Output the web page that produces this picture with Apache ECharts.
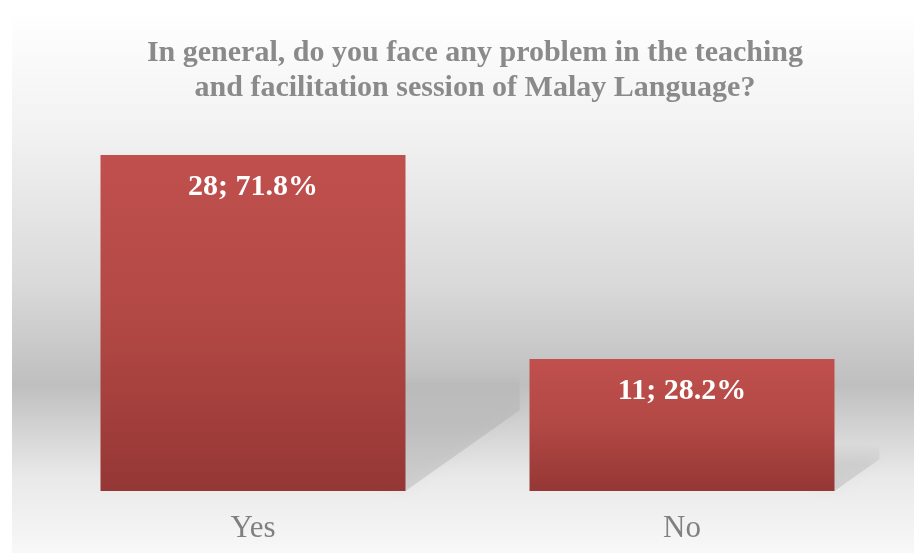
<!DOCTYPE html>
<html>
<head>
<meta charset="utf-8">
<script src="https://cdn.jsdelivr.net/npm/echarts@6/dist/echarts.min.js"></script>
<style>html,body{margin:0;padding:0;background:#fff}#c{width:914px;height:553px}</style>
</head>
<body>
<div id="c"></div>
<script>
const titleText = 'In general, do you face any problem in the teaching\nand facilitation session of Malay Language?';
const categories = ['Yes', 'No'];
const counts = [28, 11];
const percents = ['71.8%', '28.2%'];

const chart = echarts.init(document.getElementById('c'));
const serif = '"Liberation Serif", "Times New Roman", serif';

chart.setOption({
  animation: false,
  graphic: [{
    type: 'rect', z: -100, silent: true,
    shape: { x: 12, y: 10, width: 902, height: 543 },
    style: {
      fill: new echarts.graphic.LinearGradient(0, 0, 0, 1, [
        { offset: 0, color: '#ffffff' },
        { offset: 0.22, color: '#f2f2f2' },
        { offset: 0.5, color: '#dadada' },
        { offset: 0.69, color: '#bfbfbf' },
        { offset: 0.86, color: '#e9e9e9' },
        { offset: 1, color: '#f8f8f8' }
      ])
    }
  }],
  title: {
    text: titleText,
    left: 470,
    top: 31,
    textAlign: 'center',
    textStyle: {
      fontFamily: serif, fontWeight: 'bold', fontSize: 30,
      lineHeight: 35, color: '#8a8a8a'
    }
  },
  grid: { left: 38.5, right: 17.5, top: 131, bottom: 62 },
  xAxis: {
    type: 'category', data: categories,
    axisLine: { show: false }, axisTick: { show: false },
    axisLabel: { margin: 22, fontFamily: serif, fontSize: 31, color: '#808080' }
  },
  yAxis: { type: 'value', min: 0, max: 30, show: false, splitLine: { show: false } },
  series: [{
    type: 'custom',
    z: 1,
    silent: true,
    data: counts.map((v, i) => [i, v]),
    renderItem: function (params, api) {
      const i = api.value(0), v = api.value(1);
      const top = api.coord([i, v]);
      const base = api.coord([i, 0]);
      const h = base[1] - top[1];
      const xr = top[0] + 152.5;
      const y0 = base[1];
      return {
        type: 'polygon',
        shape: { points: [
          [xr - 20, y0], [xr, y0],
          [xr + 0.34 * h, y0 - 0.24 * h],
          [xr + 0.34 * h, y0 - 0.36 * h],
          [xr - 20, y0 - 0.36 * h]
        ] },
        style: {
          fill: new echarts.graphic.LinearGradient(0, 0, 0, 1, [
            { offset: 0, color: 'rgba(70,70,70,0)' },
            { offset: 0.45, color: 'rgba(70,70,70,0.12)' },
            { offset: 1, color: 'rgba(70,70,70,0.16)' }
          ]),
          shadowBlur: 14, shadowColor: 'rgba(70,70,70,0.2)'
        }
      };
    }
  }, {
    type: 'bar',
    z: 3,
    barWidth: 305,
    data: counts,
    itemStyle: {
      color: new echarts.graphic.LinearGradient(0, 0, 0, 1, [
        { offset: 0, color: '#c0504d' },
        { offset: 0.5, color: '#b24844' },
        { offset: 1, color: '#953735' }
      ])
    },
    label: {
      show: true, position: 'insideTop', distance: 17,
      fontFamily: serif, fontWeight: 'bold', fontSize: 30, color: '#ffffff',
      formatter: p => counts[p.dataIndex] + '; ' + percents[p.dataIndex]
    }
  }]
});
</script>
</body>
</html>
